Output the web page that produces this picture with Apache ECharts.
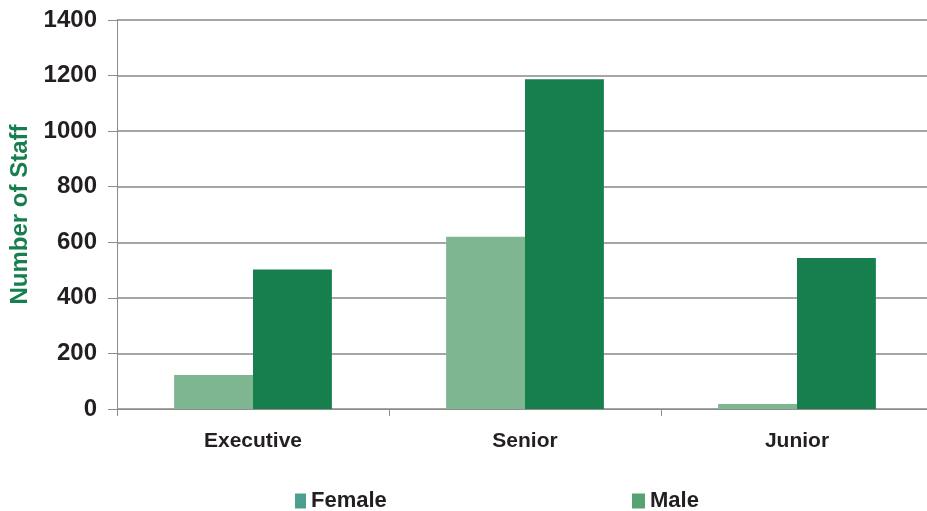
<!DOCTYPE html>
<html>
<head>
<meta charset="utf-8">
<script src="https://cdn.jsdelivr.net/npm/echarts@6/dist/echarts.min.js"></script>
<style>html,body{margin:0;padding:0;background:#fff;overflow:hidden}#c{width:927px;height:511px}</style>
</head>
<body>
<div id="c"></div>
<script>
const categories = ['Executive', 'Senior', 'Junior'];
const femaleValues = [122, 620, 18];
const maleValues = [502, 1187, 543];
const yTicks = [0, 200, 400, 600, 800, 1000, 1200, 1400];

const FONT = '"Liberation Sans", Arial, sans-serif';
const chart = echarts.init(document.getElementById('c'));
chart.setOption({
  animation: false,
  backgroundColor: '#ffffff',
  grid: { left: 117, width: 816, top: 20, bottom: 102, outerBoundsMode: 'none', containLabel: false },
  legend: [
    { data: [{ name: 'Female', icon: 'rect', itemStyle: { color: '#4aa08e' } }], left: 290, top: 485, itemWidth: 11, itemHeight: 15, itemGap: 8,
      textStyle: { fontFamily: FONT, fontWeight: 'bold', fontSize: 22, color: '#231f20' } },
    { data: [{ name: 'Male', icon: 'rect', itemStyle: { color: '#55a273' } }], left: 627, top: 485, itemWidth: 13, itemHeight: 15, itemGap: 8,
      textStyle: { fontFamily: FONT, fontWeight: 'bold', fontSize: 22, color: '#231f20' } }
  ],
  xAxis: {
    type: 'category',
    data: categories,
    axisLine: { lineStyle: { color: '#8c8c8c', width: 1 } },
    axisTick: { show: true, length: 7, lineStyle: { color: '#8c8c8c' } },
    axisLabel: { margin: 22, fontFamily: FONT, fontWeight: 'bold', fontSize: 21, color: '#231f20' }
  },
  yAxis: {
    type: 'value',
    min: yTicks[0], max: yTicks[yTicks.length - 1], interval: 200,
    name: 'Number of Staff',
    nameLocation: 'middle',
    nameGap: 84,
    nameTextStyle: { fontFamily: FONT, fontWeight: 'bold', fontSize: 24, color: '#177f4e' },
    axisLine: { show: true, lineStyle: { color: '#8c8c8c', width: 1 } },
    axisTick: { show: true, length: 9, lineStyle: { color: '#8c8c8c' } },
    axisLabel: { margin: 20, fontFamily: FONT, fontWeight: 'bold', fontSize: 24, color: '#231f20',
      formatter: v => String(v) },
    splitLine: { lineStyle: { color: '#a6a6a6', width: 2 } }
  },
  series: [
    { name: 'Female', type: 'bar', data: femaleValues, barGap: '0%', barCategoryGap: '42%',
      itemStyle: { color: '#7fb692' } },
    { name: 'Male', type: 'bar', data: maleValues, barGap: '0%', barCategoryGap: '42%',
      itemStyle: { color: '#177f4e' } }
  ]
});
</script>
</body>
</html>
